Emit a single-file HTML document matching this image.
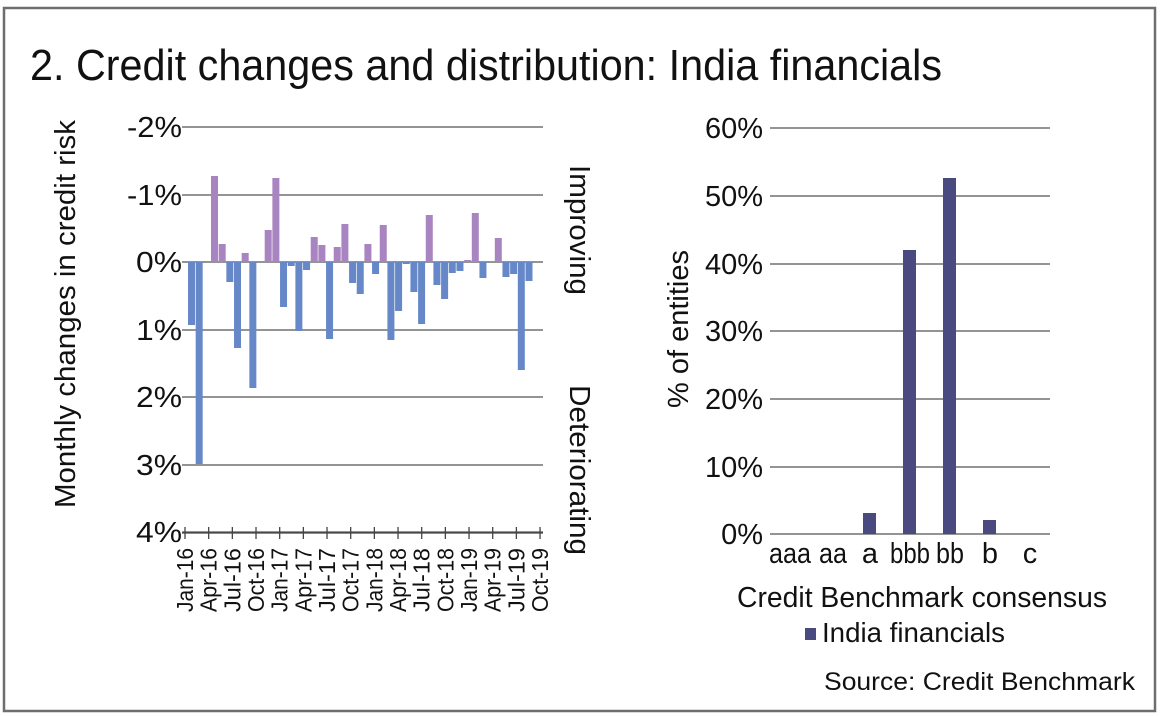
<!DOCTYPE html>
<html><head><meta charset="utf-8"><style>
html,body{margin:0;padding:0;background:#fff}
svg{display:block}
text{font-family:"Liberation Sans",sans-serif;fill:#111}
</style></head><body>
<svg width="1160" height="716" viewBox="0 0 1160 716">
<rect x="4" y="8" width="1151" height="703" fill="#fff" stroke="#6e6e6e" stroke-width="2.5"/>
<text x="30" y="80" font-size="44" textLength="912" lengthAdjust="spacingAndGlyphs">2. Credit changes and distribution: India financials</text>
<g stroke="#555" stroke-width="1.3">
<line x1="182" y1="127" x2="543" y2="127"/>
<line x1="182" y1="195" x2="543" y2="195"/>
<line x1="182" y1="262" x2="543" y2="262"/>
<line x1="182" y1="330" x2="543" y2="330"/>
<line x1="182" y1="397" x2="543" y2="397"/>
<line x1="182" y1="465" x2="543" y2="465"/>
<line x1="182" y1="532" x2="543" y2="532"/>
</g>
<g id="bars"></g>
<g font-size="29" text-anchor="end">
<text x="182" y="137" textLength="55" lengthAdjust="spacingAndGlyphs">-2%</text>
<text x="182" y="205" textLength="55" lengthAdjust="spacingAndGlyphs">-1%</text>
<text x="182" y="272" textLength="46" lengthAdjust="spacingAndGlyphs">0%</text>
<text x="182" y="340" textLength="46" lengthAdjust="spacingAndGlyphs">1%</text>
<text x="182" y="407" textLength="46" lengthAdjust="spacingAndGlyphs">2%</text>
<text x="182" y="475" textLength="46" lengthAdjust="spacingAndGlyphs">3%</text>
<text x="182" y="542" textLength="46" lengthAdjust="spacingAndGlyphs">4%</text>
</g>
<text transform="translate(75,314) rotate(-90)" font-size="29" text-anchor="middle" textLength="388" lengthAdjust="spacingAndGlyphs">Monthly changes in credit risk</text>
<text transform="translate(570,230) rotate(90)" font-size="29" text-anchor="middle" textLength="130" lengthAdjust="spacingAndGlyphs">Improving</text>
<text transform="translate(570,470) rotate(90)" font-size="29" text-anchor="middle" textLength="170" lengthAdjust="spacingAndGlyphs">Deteriorating</text>
<g id="ticks" stroke="#444" stroke-width="1.3"></g>
<g id="xl" font-size="23"></g>
<!-- right chart -->
<g stroke="#555" stroke-width="1.3">
<line x1="770" y1="128" x2="1050" y2="128"/>
<line x1="770" y1="196" x2="1050" y2="196"/>
<line x1="770" y1="264" x2="1050" y2="264"/>
<line x1="770" y1="331" x2="1050" y2="331"/>
<line x1="770" y1="399" x2="1050" y2="399"/>
<line x1="770" y1="467" x2="1050" y2="467"/>
<line x1="770" y1="534" x2="1050" y2="534"/>
</g>
<g font-size="29" text-anchor="end">
<text x="763" y="138">60%</text><text x="763" y="206">50%</text><text x="763" y="274">40%</text>
<text x="763" y="341">30%</text><text x="763" y="409">20%</text><text x="763" y="477">10%</text>
<text x="763" y="544">0%</text>
</g>
<g fill="#4a4a80">
<rect x="863" y="513" width="13" height="21"/>
<rect x="903" y="250" width="13" height="284"/>
<rect x="943" y="178" width="13" height="356"/>
<rect x="983" y="520" width="13" height="14"/>
</g>
<text transform="translate(688,329) rotate(-90)" font-size="29" text-anchor="middle" textLength="158" lengthAdjust="spacingAndGlyphs">% of entities</text>
<g font-size="29" text-anchor="middle">
<text x="790" y="563" textLength="42" lengthAdjust="spacingAndGlyphs">aaa</text>
<text x="833" y="563" textLength="28" lengthAdjust="spacingAndGlyphs">aa</text>
<text x="870" y="563">a</text>
<text x="910" y="563" textLength="40" lengthAdjust="spacingAndGlyphs">bbb</text>
<text x="950" y="563" textLength="28" lengthAdjust="spacingAndGlyphs">bb</text>
<text x="990" y="563">b</text><text x="1030" y="563">c</text>
</g>
<text x="737" y="607" font-size="29" textLength="370" lengthAdjust="spacingAndGlyphs">Credit Benchmark consensus</text>
<rect x="805" y="628" width="11" height="12" fill="#4a4a80"/>
<text x="822" y="642" font-size="28" textLength="183" lengthAdjust="spacingAndGlyphs">India financials</text>
<text x="824" y="690" font-size="25" textLength="311" lengthAdjust="spacingAndGlyphs">Source: Credit Benchmark</text>
</svg>
<script>
var tips=[325,464,262,176,244,282,348,253,388,262,230,178,307,266,331,270,237,245,339,247,224,283,294,244,274,225,340,311,264,292,324,215,285,299,273,271,260,213,278,261,238,277,274,370,281,262];
var ns="http://www.w3.org/2000/svg",g=document.getElementById("bars");
tips.forEach(function(t,k){if(t==262)return;var r=document.createElementNS(ns,"rect");var x=188+7.67*k;
r.setAttribute("x",x);r.setAttribute("width",7);
if(t<262){r.setAttribute("y",t);r.setAttribute("height",262-t);r.setAttribute("fill","#a884c0");}
else{r.setAttribute("y",262);r.setAttribute("height",t-262);r.setAttribute("fill","#6688c8");}
g.appendChild(r);});
var tk=document.getElementById("ticks"),xl=document.getElementById("xl");
var labs=["Jan-16","Apr-16","Jul-16","Oct-16","Jan-17","Apr-17","Jul-17","Oct-17","Jan-18","Apr-18","Jul-18","Oct-18","Jan-19","Apr-19","Jul-19","Oct-19"];
var l=document.createElementNS(ns,"line");l.setAttribute("x1",182);l.setAttribute("x2",543);l.setAttribute("y1",533);l.setAttribute("y2",533);tk.appendChild(l);
labs.forEach(function(s,i){var x=185+23.67*i;
var m=document.createElementNS(ns,"line");m.setAttribute("x1",x);m.setAttribute("x2",x);m.setAttribute("y1",527);m.setAttribute("y2",539);tk.appendChild(m);
var t=document.createElementNS(ns,"text");t.setAttribute("transform","translate("+(x+8)+",548) rotate(-90)");t.setAttribute("text-anchor","end");
t.setAttribute("textLength","64");t.setAttribute("lengthAdjust","spacingAndGlyphs");t.textContent=s;xl.appendChild(t);});
</script>
</body></html>
